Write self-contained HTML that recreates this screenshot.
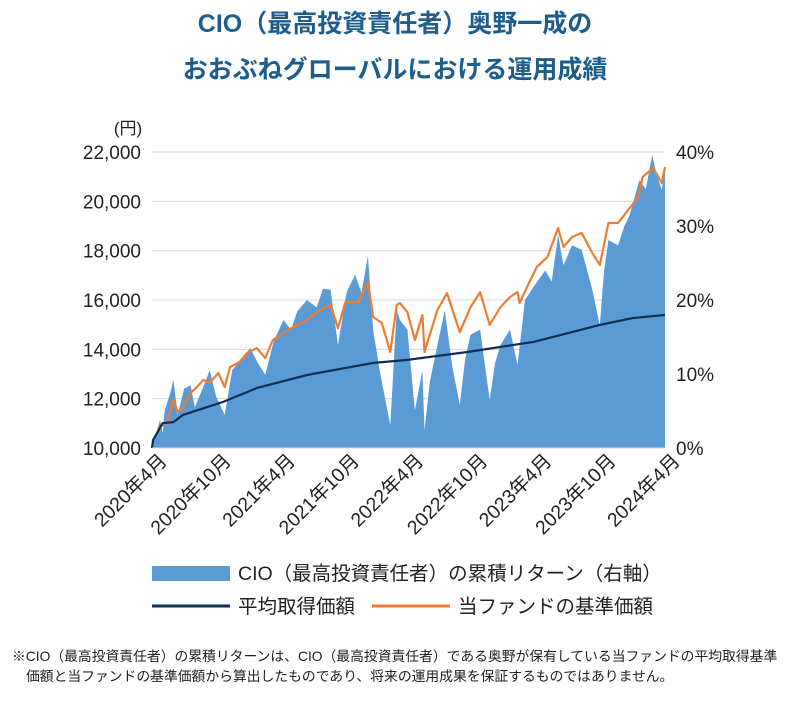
<!DOCTYPE html>
<html><head><meta charset="utf-8"><style>
body{margin:0;background:#fff;width:791px;height:696px;overflow:hidden;font-family:"Liberation Sans","Noto Sans CJK JP",sans-serif;}
svg text{font-family:"Liberation Sans","Noto Sans CJK JP",sans-serif;}
</style></head><body>
<svg id="c" width="791" height="696">
<text x="395" y="32" text-anchor="middle" font-size="25" font-weight="bold" fill="#1d5d8c">CIO（最高投資責任者）奥野一成の</text>
<text x="395" y="78" text-anchor="middle" font-size="25" font-weight="bold" fill="#1d5d8c">おおぶねグローバルにおける運用成績</text>
<text x="128" y="134" text-anchor="middle" font-size="17" fill="#222">(円)</text>
<g id="grid"></g><g id="marks"></g><g id="axes"></g>
<rect x="152" y="566" width="78" height="15" fill="#5b9bd5"/>
<text x="238" y="580" font-size="19.5" fill="#222">CIO（最高投資責任者）の累積リターン（右軸）</text>
<line x1="152" y1="606" x2="230" y2="606" stroke="#0f2e52" stroke-width="3"/>
<text x="238" y="613" font-size="19.5" fill="#222">平均取得価額</text>
<line x1="372" y1="606" x2="450" y2="606" stroke="#ed7d31" stroke-width="3"/>
<text x="458" y="613" font-size="19.5" fill="#222">当ファンドの基準価額</text>
<text x="12" y="661" font-size="13.8" fill="#222">※CIO（最高投資責任者）の累積リターンは、CIO（最高投資責任者）である奥野が保有している当ファンドの平均取得基準</text>
<text x="26" y="681" font-size="13.8" fill="#222">価額と当ファンドの基準価額から算出したものであり、将来の運用成果を保証するものではありません。</text>
</svg>
<script>
const xLabels=["2020年4月","2020年10月","2021年4月","2021年10月","2022年4月","2022年10月","2023年4月","2023年10月","2024年4月"];
const leftTicks=[10000,12000,14000,16000,18000,20000,22000];
const rightTicks=[0,10,20,30,40];
const navMonths=[0,0.1,0.75,1.4,2.0,2.4,2.9,3.6,4.2,4.8,5.4,6.2,6.8,7.3,8.2,8.9,9.8,10.6,11.3,12.3,13.2,14.5,15.4,16.7,17.4,18.1,19.3,20.2,20.7,21.5,22.3,22.9,23.2,23.9,24.6,25.3,25.5,26.7,27.6,28.8,29.8,30.7,31.6,32.6,33.5,34.2,34.4,35.1,36.0,37.0,38.0,38.5,39.3,40.2,41.2,41.9,42.7,43.6,44.7,45.5,45.9,46.9,47.7,48];
const navValues=[10000,10320,10850,11050,11950,11460,11620,12230,12470,12760,12640,13040,12470,13280,13490,13850,14050,13650,14380,14660,14900,15190,15510,15800,14860,15920,15920,16730,15310,15070,13890,15800,15880,15510,14380,15390,13890,15590,16280,14700,15710,16320,14990,15710,16120,16320,15880,16530,17340,17740,18920,18150,18550,18720,17910,17420,19120,19120,19730,20180,20990,21350,20740,21390];
const avgMonths=[0,0.1,1.0,2.0,2.9,6.6,9.8,14.5,20.7,23.9,29.5,35.7,41.9,45.0,48];
const avgValues=[10000,10320,11010,11050,11340,11860,12430,12960,13450,13570,13890,14300,14990,15270,15390];
const retMonths=[0,0.75,1.0,1.2,1.7,2.0,2.4,3.0,3.6,4.0,4.5,5.0,5.4,6.0,6.8,7.5,8.3,9.2,9.9,10.6,11.4,12.3,13.0,13.6,14.5,15.4,16.0,16.7,17.4,18.2,19.0,19.6,20.2,20.7,21.3,22.3,22.9,23.2,23.9,24.6,25.3,25.5,26.0,26.7,27.4,28.1,28.8,29.3,29.8,30.7,31.6,32.1,32.6,33.5,34.2,34.9,35.8,36.8,37.4,38.0,38.5,39.3,40.2,41.2,41.9,42.3,42.7,43.6,44.2,44.7,45.6,46.2,46.8,47.2,47.7,48];
const retValues=[0,3.8,2.0,5.1,7.4,9.2,4.5,8.0,8.5,5.5,7.2,9.0,10.5,7.0,4.5,10.5,12.0,13.5,11.5,9.9,14.5,17.3,16.0,18.5,20,19.0,21.5,21.4,13.9,21.0,23.4,21.0,26,16,10.5,3.1,18.6,17.3,16,5.1,10.5,2.4,9.0,13.9,18.6,11.0,5.8,12.0,15.3,16,6.5,11.5,13.9,16,11.2,20,22,24,22.5,28.8,24.7,27.4,26.8,21.4,16.6,24.0,28.1,27.4,30.0,31.5,36.2,35.0,39.6,37.0,34.9,38.2];
const X0=152,X1=665,Y0=448,Y1=152;
const xs=m=>X0+m/48*(X1-X0);
const yl=v=>Y0-(v-10000)/12000*(Y0-Y1);
const yr=p=>Y0-p/40*(Y0-Y1);
const NS="http://www.w3.org/2000/svg";
function mk(t,a,p){const e=document.createElementNS(NS,t);for(const k in a)e.setAttribute(k,a[k]);p.appendChild(e);return e;}
const grid=document.getElementById('grid'),marks=document.getElementById('marks'),axes=document.getElementById('axes');
leftTicks.forEach((v,i)=>{
 if(i>0){const g=mk('line',{x1:X0,x2:X1,y1:yl(v),y2:yl(v),stroke:'#d9d9d9','stroke-width':1},grid);
 
 }
 const t=mk('text',{x:141,y:yl(v)+7,'text-anchor':'end','font-size':19,fill:'#222'},axes);t.textContent=v.toLocaleString('en-US');
 
 
});
rightTicks.forEach(p=>{
 const t=mk('text',{x:676,y:yr(p)+7,'font-size':19,fill:'#222'},axes);t.textContent=p+'%';
 
 
});
xLabels.forEach((s,i)=>{
 const x=xs(i*6)+16,y=462;
 const t=mk('text',{x:x,y:y,'text-anchor':'end','font-size':19.5,fill:'#222',transform:`rotate(-45 ${x} ${y})`},axes);t.textContent=s;
 
 
});
let d=`M${xs(retMonths[0])},${Y0}`;
retMonths.forEach((m,i)=>{d+=`L${xs(m).toFixed(1)},${yr(retValues[i]).toFixed(1)}`;});
d+=`L${xs(retMonths[retMonths.length-1])},${Y0}Z`;
const area=mk('path',{d:d,fill:'#5b9bd5'},marks);


const nav=mk('polyline',{points:navMonths.map((m,i)=>xs(m).toFixed(1)+','+yl(navValues[i]).toFixed(1)).join(' '),fill:'none',stroke:'#ed7d31','stroke-width':2.2,'stroke-linejoin':'round'},marks);


const avg=mk('polyline',{points:avgMonths.map((m,i)=>xs(m).toFixed(1)+','+yl(avgValues[i]).toFixed(1)).join(' '),fill:'none',stroke:'#0f2e52','stroke-width':2.2,'stroke-linejoin':'round'},marks);


const base=mk('line',{x1:X0,x2:X1,y1:Y0,y2:Y0,stroke:'#d9d9d9','stroke-width':1},axes);


</script>
</body></html>
